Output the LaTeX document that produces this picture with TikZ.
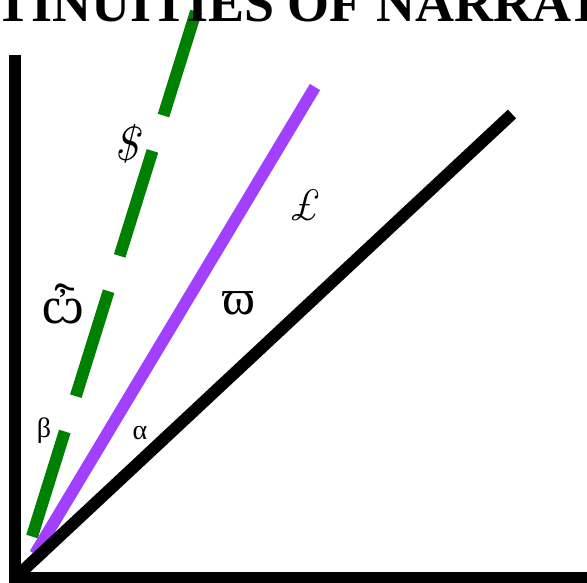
\documentclass[tikz,border=0pt]{standalone}
\usepackage{fontspec}
\newfontfamily\lsf{Liberation Serif}
\definecolor{lgreen}{RGB}{0,128,0}
\definecolor{lpurple}{RGB}{162,64,255}
\tikzset{
  axisline/.style={line width=12pt, black, line join=miter},
  ray/.style={line width=12pt, line cap=butt},
  lab/.style={inner sep=0pt},
}
\begin{document}
\begin{tikzpicture}[x=1pt,y=-1pt]
\useasboundingbox (0,0) rectangle (587,582);
\clip (0,0) rectangle (587,582);
\fill[white] (0,0) rectangle (587,582);
% coordinates
\coordinate (ytop) at (15,55);
\coordinate (o) at (15,578);
\coordinate (xend) at (600,578);
\coordinate (bend) at (512,114);
\coordinate (pstart) at (35,554);
\coordinate (pend) at (315,87);
\coordinate (gstart) at (32,536.5);
\coordinate (gend) at (196,11.5);
% rays
\draw[ray, lgreen, dash pattern=on 110pt off 37pt] (gstart) -- (gend);
\draw[ray, lpurple] (pstart) -- (pend);
\draw[ray, black] (o) -- (bend);
% axes
\draw[axisline] (ytop) -- (o) -- (xend);
% title
\node[lab, anchor=base west, font=\lsf\bfseries\fontsize{54}{54}\selectfont] (title) at (-5,21.5) {TINUITIES OF NARRAT};
% labels
\node[lab, font=\itshape\fontsize{48}{48}\selectfont] (dollar) at (126,144) {\$};
\node[lab, font=\lsf\fontsize{52}{52}\selectfont] (om1) at (63,304) {ѽ};
\node[lab, font=\lsf\fontsize{50}{50}\selectfont] (om2) at (239,303) {ϖ};
\node[lab, font=\itshape\fontsize{44}{44}\selectfont] (pound) at (305,205) {£};
\node[lab, font=\lsf\fontsize{28}{28}\selectfont] (beta) at (44,431) {β};
\node[lab, font=\lsf\fontsize{28}{28}\selectfont] (alpha) at (140,433) {α};
\end{tikzpicture}
\end{document}
